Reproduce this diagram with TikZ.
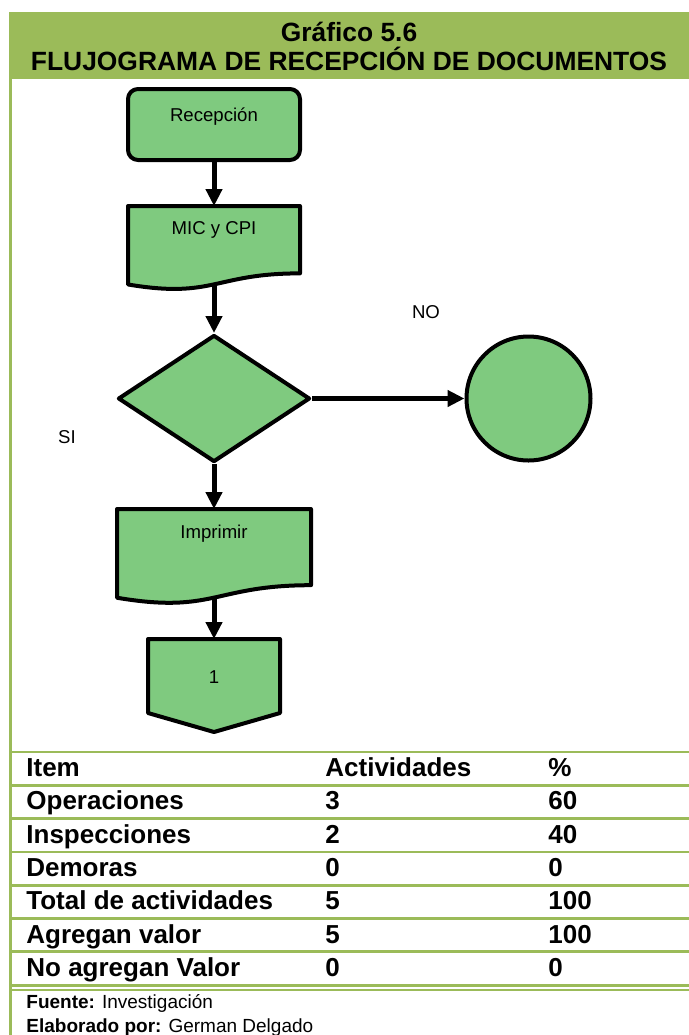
\documentclass[tikz,border=0pt]{standalone}
\usepackage{fontspec}
\setmainfont{Liberation Sans}
\usepackage{tikz}
\usetikzlibrary{arrows.meta,calc,shapes.geometric,shadows}
\usepackage{xcolor}
\definecolor{bandgreen}{RGB}{155,187,89}
\definecolor{flowgreen}{RGB}{127,202,127}
\tikzset{
  flow shape/.style={draw=black,line width=2pt,fill=flowgreen,line join=round,
    drop shadow={shadow xshift=.7pt,shadow yshift=-.7pt,opacity=.15,fill=black}},
  flow arrow/.style={line width=2.5pt,-{Triangle[length=8.5pt,width=8pt]}},
  flow text/.style={font=\fontsize{9.3}{11}\selectfont,inner sep=0pt},
  title text/.style={font=\fontsize{13.2}{16}\selectfont\bfseries,anchor=base,inner sep=0pt},
  table text/.style={font=\fontsize{13}{15}\selectfont\bfseries,anchor=base west,inner sep=0pt},
  note text/.style={font=\fontsize{9.5}{11}\selectfont,anchor=base west,inner sep=0pt},
  table rule/.style={draw=bandgreen,line width=1.4pt}
}
% document symbol: name, left, top, width, height
\newcommand{\DocShape}[5]{%
  \draw[flow shape] (#2,#3) -- ({#2+#4},#3) -- ({#2+#4},{#3+0.802*#5})
    .. controls ({#2+0.5*#4},{#3+0.802*#5}) and ({#2+0.5*#4},{#3+1.107*#5}) .. (#2,{#3+0.934*#5}) -- cycle;
  \coordinate (#1-top) at ({#2+0.5*#4},#3);
  \coordinate (#1-bot) at ({#2+0.5*#4},{#3+0.933*#5});}

\begin{document}
\begin{tikzpicture}[x=0.5pt,y=-0.5pt,line cap=butt]
  \useasboundingbox (0,0) rectangle (689,1035);
  \fill[bandgreen] (9,12) rectangle (689,79);
  \draw[bandgreen,line width=1.5pt] (10.5,79) -- (10.5,1035);
  \node[title text] (title-a) at (349,41) {Gráfico 5.6};
  \node[title text] (title-b) at (349,70) {FLUJOGRAMA DE RECEPCIÓN DE DOCUMENTOS};

  \node[flow shape,rectangle,rounded corners=5pt,minimum width=86pt,minimum height=35.5pt] (recv) at (214,124.5) {};
  \DocShape{mic}{128}{206}{172}{84}
  \node[flow shape,diamond,inner sep=0pt,minimum width=96pt,minimum height=63.5pt] (check) at (214,398.5) {};
  \node[flow shape,circle,inner sep=0pt,minimum size=62pt] (stop) at (528.5,398.5) {};
  \DocShape{print}{117}{509}{194}{95}
  \draw[flow shape] (148,639) -- (280,639) -- (280,713) -- (214,732) -- (148,713) -- cycle;
  \coordinate (link-top) at (214,639);

  \node[flow text] (recv-label) at (214,117) {Recepción};
  \node[flow text] (mic-label) at (214,229.5) {MIC y CPI};
  \node[flow text] (print-label) at (214,533.5) {Imprimir};
  \node[flow text] (link-label) at (214,677) {1};
  \node[flow text] (no-label) at (426,312) {NO};
  \node[flow text] (si-label) at (67,437.5) {SI};

  \draw[flow arrow] (recv.south) -- (mic-top);
  \draw[flow arrow] (mic-bot) -- (check.north);
  \draw[flow arrow] (check.east) -- (stop.west);
  \draw[flow arrow] (check.south) -- (print-top);
  \draw[flow arrow] (print-bot) -- (link-top);

  \foreach \i in {0,...,7} {\draw[table rule] (12,{752+33.3*\i}) -- (689,{752+33.3*\i});}
  \draw[bandgreen,line width=1pt] (12,989.5) -- (689,989.5);
  \foreach \name/\count/\share [count=\i from 0] in {Item/Actividades/\%,Operaciones/3/60,Inspecciones/2/40,
      Demoras/0/0,Total de actividades/5/100,Agregan valor/5/100,No agregan Valor/0/0} {
    \node[table text] (item-\i) at (26,{776.5+33.3*\i}) {\name};
    \node[table text] (act-\i) at (325,{776.5+33.3*\i}) {\count};
    \node[table text] (pct-\i) at (548,{776.5+33.3*\i}) {\share};
  }
  \node[note text] (source) at (26,1008) {\textbf{Fuente:} Investigación};
  \node[note text] (author) at (26,1032) {\textbf{Elaborado por:} German Delgado};
\end{tikzpicture}
\end{document}
